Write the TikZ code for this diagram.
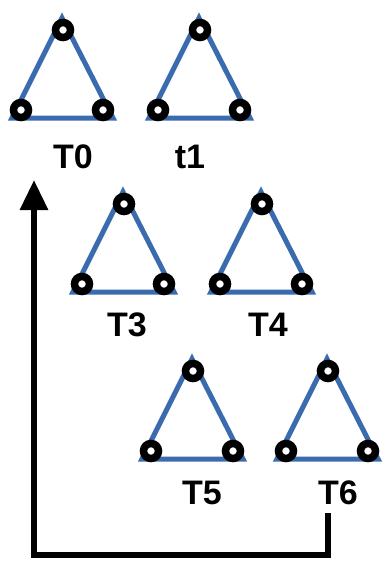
\documentclass[tikz,border=0pt]{standalone}
\usepackage{fontspec}
\setmainfont{Liberation Sans}
\usetikzlibrary{arrows.meta}
\definecolor{triBlue}{HTML}{3A6BAE}

\begin{document}
\begin{tikzpicture}[
  x=1pt, y=-1pt,
  edge/.style={draw=triBlue, line width=5pt, miter limit=10},
  vtx/.style={circle, draw=black, fill=white, line width=7.5pt, minimum size=15pt, inner sep=0pt},
  lbl/.style={font=\fontsize{34}{40}\selectfont\bfseries, inner sep=0pt},
  back/.style={-{Triangle[width=27pt,length=30pt]}, line width=6pt, line cap=butt}
]
\useasboundingbox (0,0) rectangle (390,562);
% triangles, placed by their top corner
\foreach \name/\x/\y in {T0/62/13, t1/199/13, T3/123/187, T4/261/187, T5/192/354, T6/327/354} {
  \begin{scope}[shift={(\x,\y)}]
    \draw[edge] (0,5) -- (-50,105) -- (51,105) -- cycle;
    \node[vtx] (\name-a) at (1,17) {};
    \node[vtx] (\name-b) at (-41,97) {};
    \node[vtx] (\name-c) at (41,97) {};
  \end{scope}
}
% labels
\node[lbl] (lT0) at (73,157) {T0};
\node[lbl] (lt1) at (190,157) {t1};
\node[lbl] (lT3) at (127,325) {T3};
\node[lbl] (lT4) at (268,325) {T4};
\node[lbl] (lT5) at (202,493) {T5};
\node[lbl] (lT6) at (338,493) {T6};
% loop back from T6 to T0
\coordinate (out) at (328,513);
\coordinate (in) at (34,180);
\draw[back] (out) -- (out |- 0,555) -- (in |- 0,555) -- (in);
\end{tikzpicture}
\end{document}
